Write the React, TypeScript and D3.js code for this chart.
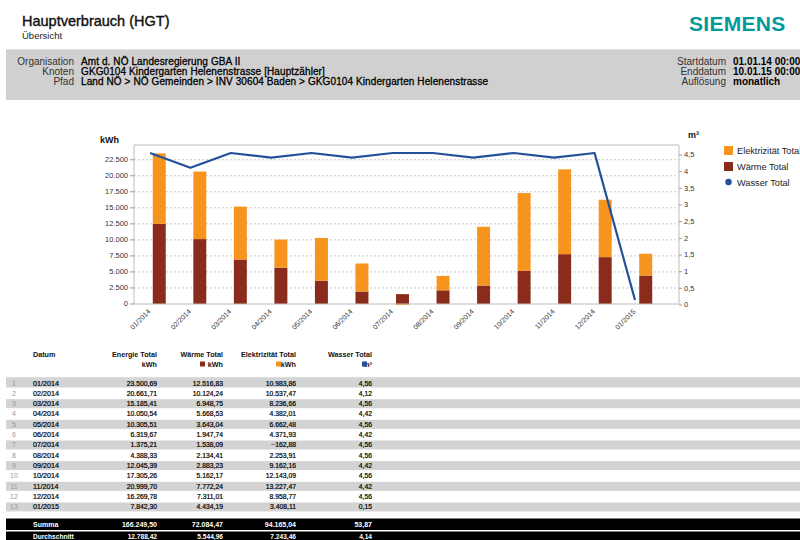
import React from 'react';
import * as d3 from 'd3';

const months = ['01/2014', '02/2014', '03/2014', '04/2014', '05/2014', '06/2014', '07/2014', '08/2014', '09/2014', '10/2014', '11/2014', '12/2014', '01/2015'];
const energie = [23500.69, 20661.71, 15185.41, 10050.54, 10305.51, 6319.67, 1375.21, 4388.33, 12045.39, 17305.26, 20999.70, 16269.78, 7842.30];
const waerme = [12516.83, 10124.24, 6948.75, 5668.53, 3643.04, 1947.74, 1538.09, 2134.41, 2883.23, 5162.17, 7772.24, 7311.01, 4434.19];
const elektr = [10983.86, 10537.47, 8236.66, 4382.01, 6662.48, 4371.93, -162.88, 2253.91, 9162.16, 12143.09, 13227.47, 8958.77, 3408.11];
const wasser = [4.56, 4.12, 4.56, 4.42, 4.56, 4.42, 4.56, 4.56, 4.42, 4.56, 4.42, 4.56, 0.15];

const leftTicks = [0, 2500, 5000, 7500, 10000, 12500, 15000, 17500, 20000, 22500];
const rightTicks = [0, 0.5, 1, 1.5, 2, 2.5, 3, 3.5, 4, 4.5];

const infoLeft = [
  ['Organisation', 'Amt d. NÖ Landesregierung GBA II'],
  ['Knoten', 'GKG0104 Kindergarten Helenenstrasse [Hauptzähler]'],
  ['Pfad', 'Land NÖ > NÖ Gemeinden > INV 30604 Baden > GKG0104 Kindergarten Helenenstrasse'],
];
const infoRight = [
  ['Startdatum', '01.01.14 00:00'],
  ['Enddatum', '10.01.15 00:00'],
  ['Auflösung', 'monatlich'],
];

const ORANGE = '#f7941d';
const BROWN = '#8b2b1c';
const BLUE = '#23509a';
const FONT = '"Liberation Sans", Arial, sans-serif';

const de = d3.formatLocale({ decimal: ',', thousands: '.', grouping: [3], currency: ['', '€'] });
const fmt2 = de.format(',.2f');
const fmtK = de.format(',d');
const fmtR = (v: number) => String(v).replace('.', ',');

export default function App() {
  // chart scales
  const plotL = 134, plotR = 679, plotT = 145, plotB = 304;
  const yL = d3.scaleLinear().domain([0, 24800]).range([plotB, plotT]);
  const yR = d3.scaleLinear().domain([0, 4.8]).range([plotB + 1, plotT]);
  const xBar = d3.scaleBand<string>().domain(months).range([139, 666]).paddingInner(0.68).paddingOuter(0.34);
  const xLine = d3.scalePoint<string>().domain(months).range([150, 635]);

  const rows = months.map((m, i) => ({ m, waerme: waerme[i], elektr: elektr[i] }));
  const series = d3.stack<any>().keys(['waerme', 'elektr']).offset(d3.stackOffsetDiverging)(rows);
  const colors: Record<string, string> = { waerme: BROWN, elektr: ORANGE };

  const line = d3.line<number>()
    .x((_, i) => xLine(months[i])!)
    .y(d => yR(d));

  // table layout
  const colE = 157, colW = 223, colEl = 296, colWa = 372;
  const rowTop = 378.5, rowH = 10.33;
  const sums = [d3.sum(energie), d3.sum(waerme), d3.sum(elektr), d3.sum(wasser)];
  const avgs = sums.map(s => s / months.length);
  const cols = [colE, colW, colEl, colWa];

  return (
    <svg width={800} height={540} style={{ position: 'absolute', left: 0, top: 0, background: '#fff' }} fontFamily={FONT}>
      {/* header */}
      <text x={22} y={26} fontSize={14.5} fill="#111" stroke="#111" strokeWidth={0.4}>Hauptverbrauch (HGT)</text>
      <text x={22} y={39} fontSize={9.5} fill="#222">Übersicht</text>
      <text x={689} y={31} fontSize={21} fontWeight="bold" fill="#009a9a" letterSpacing={0.3}>SIEMENS</text>

      <rect x={6} y={49} width={794} height={51} fill="#d0d0d0" />
      <line x1={6} x2={800} y1={49.5} y2={49.5} stroke="#e2e2e2" />
      {infoLeft.map((d, i) => (
        <g key={d[0]} fontSize={10}>
          <text x={74} y={65 + i * 10} textAnchor="end" fill="#333">{d[0]}</text>
          <text x={81} y={65 + i * 10} fill="#000" stroke="#000" strokeWidth={0.3} letterSpacing={0.1}>{d[1]}</text>
        </g>
      ))}
      {infoRight.map((d, i) => (
        <g key={d[0]} fontSize={10}>
          <text x={726} y={65 + i * 10} textAnchor="end" fill="#333">{d[0]}</text>
          <text x={733} y={65 + i * 10} fill="#000" fontWeight="bold">{d[1]}</text>
        </g>
      ))}

      {/* chart frame & grid */}
      {leftTicks.filter(t => t > 0).map(t => (
        <line key={t} x1={plotL} x2={plotR} y1={yL(t)} y2={yL(t)} stroke="#c9c9c9" strokeDasharray="2,2" />
      ))}
      <line x1={plotL} x2={plotR} y1={plotT} y2={plotT} stroke="#dcdcdc" strokeWidth={2} />
      <line x1={plotL} x2={plotL} y1={plotT} y2={plotB} stroke="#bdbdbd" />
      <line x1={plotR} x2={plotR} y1={plotT} y2={plotB} stroke="#bdbdbd" />

      {leftTicks.map(t => (
        <g key={t}>
          <line x1={plotL - 4} x2={plotL} y1={yL(t)} y2={yL(t)} stroke="#999" />
          <text x={plotL - 6} y={yL(t)} dy="0.33em" textAnchor="end" fontSize={7.5} fill="#333">{fmtK(t)}</text>
        </g>
      ))}
      {rightTicks.map(t => (
        <g key={t}>
          <line x1={plotR} x2={plotR + 3} y1={yR(t)} y2={yR(t)} stroke="#999" />
          <text x={plotR + 5} y={yR(t)} dy="0.33em" fontSize={7.5} fill="#333">{fmtR(t)}</text>
        </g>
      ))}
      <text x={100} y={143} fontSize={9} fontWeight="bold" fill="#111">kWh</text>
      <text x={688} y={138} fontSize={9} fontWeight="bold" fill="#111">m³</text>

      {/* bars */}
      {series.map(s => (
        <g key={s.key} fill={colors[s.key]}>
          {s.map((d, i) => (
            <rect key={i} x={xBar(months[i])} y={yL(Math.max(d[0], d[1]))}
              width={xBar.bandwidth()} height={Math.abs(yL(d[0]) - yL(d[1]))} />
          ))}
        </g>
      ))}
      <line x1={plotL} x2={plotR} y1={plotB} y2={plotB} stroke="#bdbdbd" />

      {/* water line */}
      <path d={line(wasser) || ''} fill="none" stroke={BLUE} strokeWidth={2.2} strokeLinejoin="round" />

      {/* x labels */}
      {months.map(m => (
        <text key={m} transform={`translate(${xLine(m)! + 1},312) rotate(-45)`} textAnchor="end" fontSize={7} fill="#333">{m}</text>
      ))}

      {/* legend */}
      <rect x={724} y={146} width={9} height={9} fill={ORANGE} />
      <text x={737} y={153.5} fontSize={9.2} fill="#222">Elektrizität Total</text>
      <rect x={724} y={162} width={9} height={9} fill={BROWN} />
      <text x={737} y={169.5} fontSize={9.2} fill="#222">Wärme Total</text>
      <circle cx={728.5} cy={182} r={3.2} fill={BLUE} />
      <text x={737} y={185.5} fontSize={9.2} fill="#222">Wasser Total</text>

      {/* table header */}
      <g fontSize={7.2} fontWeight="bold" fill="#111">
        <text x={33} y={357}>Datum</text>
        <text x={colE} y={357} textAnchor="end">Energie Total</text>
        <text x={colW} y={357} textAnchor="end">Wärme Total</text>
        <text x={colEl} y={357} textAnchor="end">Elektrizität Total</text>
        <text x={colWa} y={357} textAnchor="end">Wasser Total</text>
        <text x={colE} y={367} textAnchor="end">kWh</text>
        <text x={colW} y={367} textAnchor="end">kWh</text>
        <text x={colEl} y={367} textAnchor="end">kWh</text>
        <text x={colWa} y={367} textAnchor="end">m³</text>
      </g>
      <rect x={colW - 23} y={361.5} width={5} height={5} fill={BROWN} />
      <rect x={colEl - 20} y={361.5} width={5} height={5} fill={ORANGE} />
      <rect x={colWa - 10} y={361.5} width={5} height={5} fill={BLUE} />

      {/* table rows */}
      <line x1={6} x2={800} y1={rowTop - 0.5} y2={rowTop - 0.5} stroke="#b5b5b5" />
      {months.map((m, i) => {
        const top = rowTop + i * rowH;
        const by = top + 7;
        return (
          <g key={m}>
            {i % 2 === 0 && <rect x={6} y={top} width={794} height={9} fill="#d3d3d3" />}
            <text x={14} y={by} textAnchor="middle" fontSize={7} fill="#999">{i + 1}</text>
            <g fill="#000" stroke="#000" strokeWidth={0.2}>
              <text x={33} y={by} fontSize={7.2}>{m}</text>
              <g fontSize={6.8} textAnchor="end">
                <text x={colE} y={by}>{fmt2(energie[i])}</text>
                <text x={colW} y={by}>{fmt2(waerme[i])}</text>
                <text x={colEl} y={by}>{fmt2(elektr[i])}</text>
                <text x={colWa} y={by}>{fmt2(wasser[i])}</text>
              </g>
            </g>
          </g>
        );
      })}

      {/* totals */}
      <rect x={6} y={518.5} width={794} height={11.5} fill="#000" />
      <rect x={6} y={531.5} width={794} height={8.5} fill="#000" />
      <g fill="#fff" fontWeight="bold" fontSize={7}>
        <text x={33} y={527.2}>Summa</text>
        {sums.map((s, i) => <text key={i} x={cols[i]} y={527.2} textAnchor="end">{fmt2(s)}</text>)}
      </g>
      <g fill="#fff" fontWeight="bold" fontSize={6.6}>
        <text x={33} y={538.6}>Durchschnitt</text>
        {avgs.map((s, i) => <text key={i} x={cols[i]} y={538.6} textAnchor="end">{fmt2(s)}</text>)}
      </g>
    </svg>
  );
}
